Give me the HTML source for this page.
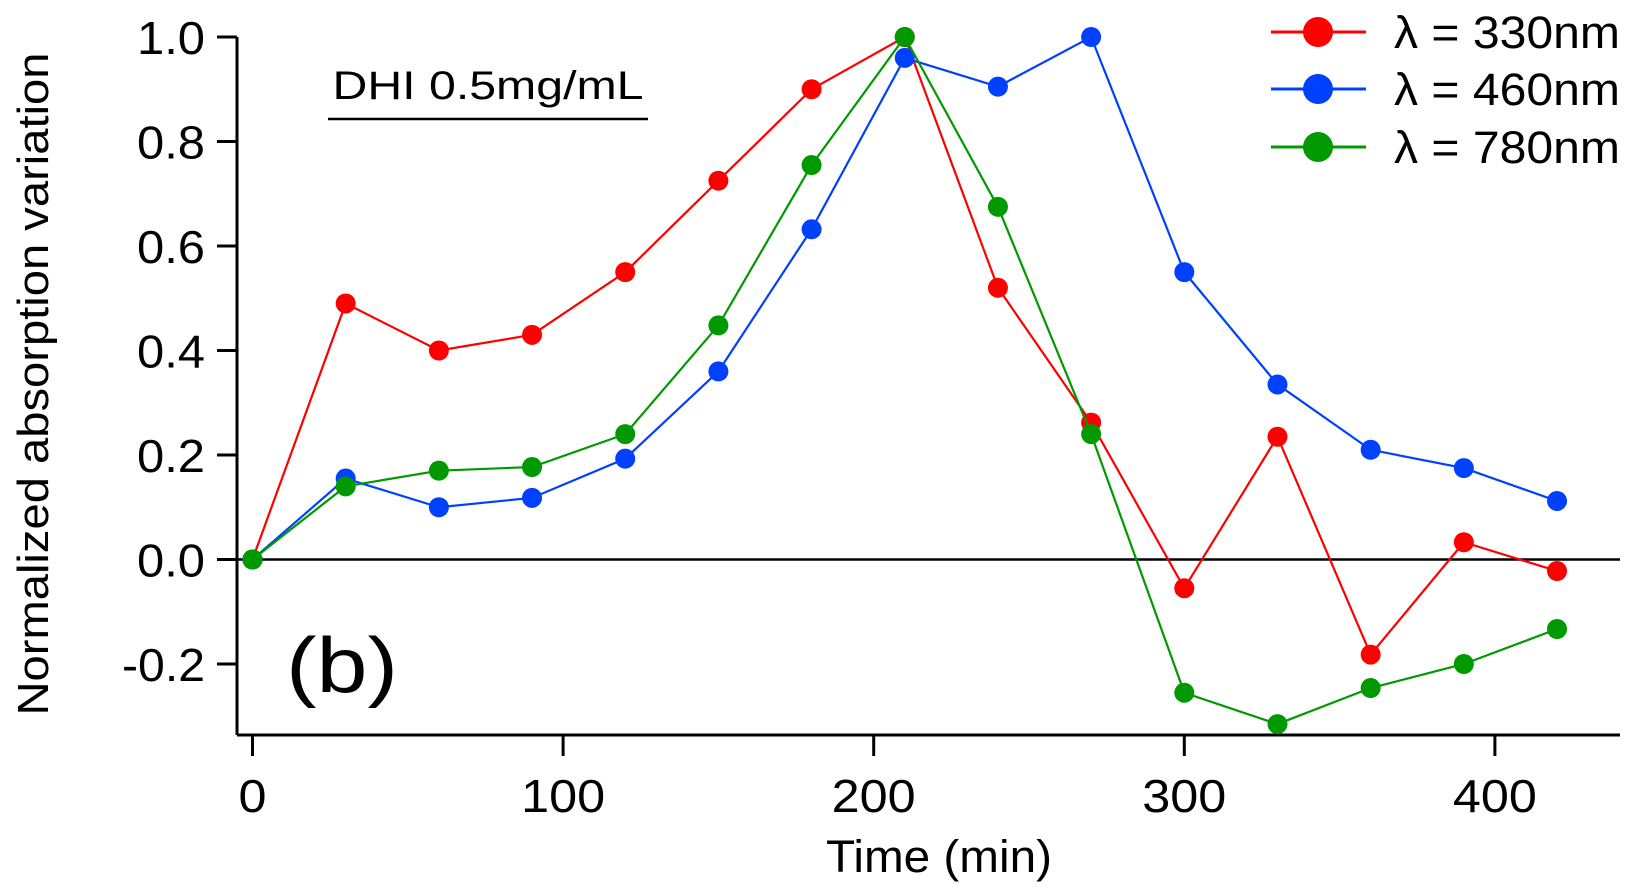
<!DOCTYPE html>
<html><head><meta charset="utf-8"><style>
html,body{margin:0;padding:0;background:#fff}
svg{display:block;font-family:"Liberation Sans","DejaVu Sans",sans-serif}
</style></head><body>
<svg id="chart" width="1641" height="895" viewBox="0 0 1641 895">
<g id="axes"></g>
<g id="series"></g>
<text x="48" y="384" font-size="44" text-anchor="middle" textLength="663" lengthAdjust="spacingAndGlyphs" transform="rotate(-90 48 384)">Normalized absorption variation</text>
<text x="939" y="872" font-size="45" text-anchor="middle" textLength="226" lengthAdjust="spacingAndGlyphs">Time (min)</text>
<text x="488" y="99" font-size="40" text-anchor="middle" textLength="311" lengthAdjust="spacingAndGlyphs">DHI 0.5mg/mL</text>
<line x1="328" y1="119" x2="648" y2="119" stroke="#000" stroke-width="2.5"/>
<text x="286" y="692" font-size="78" textLength="112" lengthAdjust="spacingAndGlyphs">(b)</text>
<g id="legend"></g>
</svg>
<script>
const times=[0,30,60,90,120,150,180,210,240,270,300,330,360,390,420];
const red330=[0,0.49,0.40,0.43,0.55,0.725,0.90,1.0,0.52,0.262,-0.055,0.235,-0.182,0.033,-0.022];
const blue460=[0,0.155,0.10,0.118,0.193,0.36,0.632,0.96,0.905,1.0,0.55,0.335,0.21,0.175,0.112];
const green780=[0,0.14,0.17,0.177,0.24,0.448,0.755,1.0,0.675,0.24,-0.255,-0.315,-0.246,-0.2,-0.133];
const xTicks=[0,100,200,300,400];
const yTicks=[-0.2,0,0.2,0.4,0.6,0.8,1.0];
const seriesNames=["λ = 330nm","λ = 460nm","λ = 780nm"];
const NS="http://www.w3.org/2000/svg";
const X=v=>252.5+v*3.106;
const Y=v=>559.5-v*522.5;
function mk(tag,attrs,parent){const e=document.createElementNS(NS,tag);for(const k in attrs)e.setAttribute(k,attrs[k]);parent.appendChild(e);return e;}
const axes=document.getElementById('axes');
let e;
e=mk('line',{x1:237,y1:Y(1.0),x2:237,y2:735,stroke:'#000','stroke-width':3},axes);


e=mk('line',{x1:237,y1:735,x2:1620,y2:735,stroke:'#000','stroke-width':3},axes);


e=mk('line',{x1:237,y1:Y(0),x2:1620,y2:Y(0),stroke:'#000','stroke-width':2.5},axes);


yTicks.forEach(t=>{
 e=mk('line',{x1:217,y1:Y(t),x2:237,y2:Y(t),stroke:'#000','stroke-width':3},axes);
 
 
 const s=t.toFixed(1);
 e=mk('text',{x:205,y:Y(t)+17,'font-size':46,'text-anchor':'end',textLength:s.length*17+(s[0]==='-'?15:17),lengthAdjust:'spacingAndGlyphs'},axes);
 e.textContent=s;
 
 
});
xTicks.forEach(t=>{
 e=mk('line',{x1:X(t),y1:735,x2:X(t),y2:756,stroke:'#000','stroke-width':3},axes);
 
 
 const s=String(t);
 e=mk('text',{x:X(t),y:812,'font-size':46,'text-anchor':'middle',textLength:s.length*28,lengthAdjust:'spacingAndGlyphs'},axes);
 e.textContent=s;
 
 
});
const colors=['#ff0000','#0040ff','#009900'];
const data=[red330,blue460,green780];
const sg=document.getElementById('series');
data.forEach((vals,i)=>{
 const g=mk('g',{},sg);
 
 
 const pl=mk('polyline',{points:vals.map((v,j)=>X(times[j])+','+Y(v)).join(' '),fill:'none',stroke:colors[i],'stroke-width':2.2},g);
 
 
 vals.forEach((v,j)=>{
  const c=mk('circle',{cx:X(times[j]),cy:Y(v),r:10,fill:colors[i]},g);
  
  
 });
});
const lg=document.getElementById('legend');
[32,89,147].forEach((y,i)=>{
 e=mk('line',{x1:1271,y1:y,x2:1366,y2:y,stroke:colors[i],'stroke-width':3},lg);
 
 
 e=mk('circle',{cx:1318,cy:y,r:15,fill:colors[i]},lg);
 
 
 e=mk('text',{x:1394,y:y+16,'font-size':45,textLength:226,lengthAdjust:'spacingAndGlyphs'},lg);
 e.textContent=seriesNames[i];
 
 
});
</script>
</body></html>
